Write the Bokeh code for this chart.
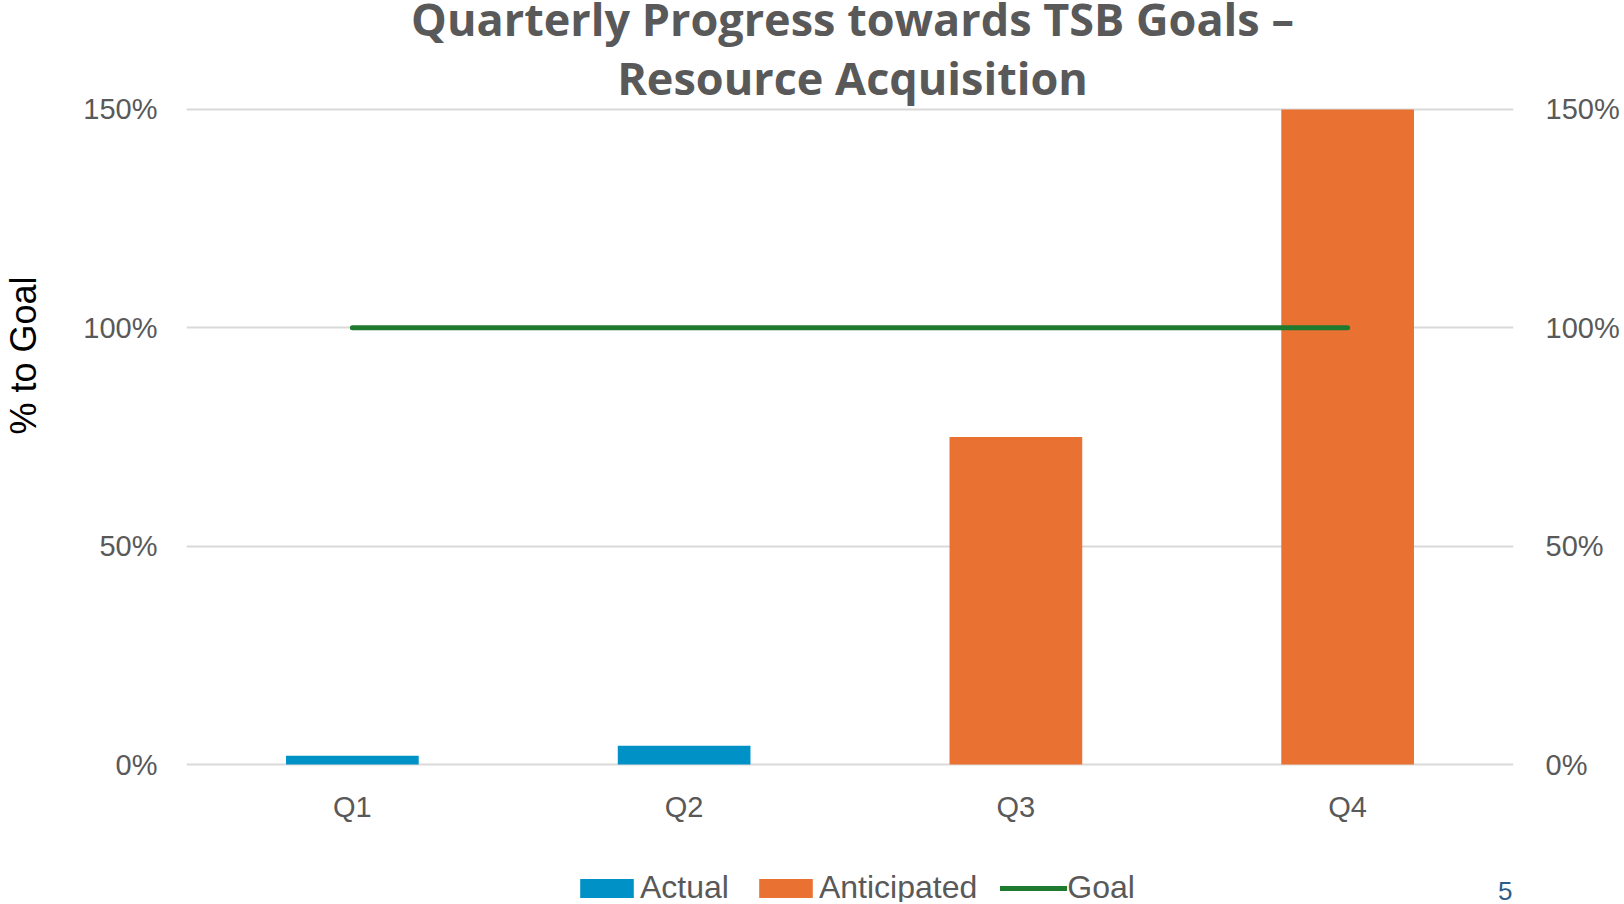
import math
from bokeh.plotting import figure
from bokeh.layouts import row
from bokeh.models import (FactorRange, Range1d, LinearAxis, FixedTicker, NumeralTickFormatter,
                          Legend, LegendItem, Label)
from bokeh.embed import file_html
from bokeh.resources import INLINE

quarters = ["Q1", "Q2", "Q3", "Q4"]
actual = [0.02, 0.043, float("nan"), float("nan")]
anticipated = [float("nan"), float("nan"), 0.75, 1.5]
goal = [1.0, 1.0, 1.0, 1.0]
y_ticks = [0, 0.5, 1.0, 1.5]
title_lines = ["Quarterly Progress towards TSB Goals \u2013", "Resource Acquisition"]
y_label = "% to Goal"
series_names = ["Actual", "Anticipated", "Goal"]
page_number = "5"

GRAY = "#595959"
SANS = "Liberation Sans"
TITLE_FONT = "Open Sans"
C_ACT, C_ANT, C_GOAL = "#0092C7", "#E97132", "#1E7A2E"
H = 902
TOTAL_W = 1622
LEFT_W = 50

# narrow strip holding the vertical axis title
p_left = figure(width=LEFT_W, height=H, x_range=Range1d(0, 1), y_range=Range1d(0, 1),
                output_backend="svg", toolbar_location=None, min_border=0)
p_left.axis.visible = False
p_left.grid.visible = False
p_left.outline_line_color = None
p_left.border_fill_color = "white"
p_left.add_layout(Label(x=23, y=H - 355, x_units="screen", y_units="screen", text=y_label,
                        angle=math.pi / 2, text_align="center", text_baseline="middle",
                        text_font=SANS, text_font_size="36px", text_color="black"))

# main chart: frame spans the full height; 0% sits 764px and 150% 109px from the top
p = figure(width=TOTAL_W - LEFT_W, height=H,
           x_range=FactorRange(*quarters, range_padding=0),
           y_range=Range1d(-0.3160, 1.7496),
           output_backend="svg", toolbar_location=None,
           min_border_left=186 - LEFT_W, min_border_right=108,
           min_border_top=0, min_border_bottom=0)
p.outline_line_color = None
p.background_fill_color = "white"
p.border_fill_color = "white"

r_act = p.vbar(x=quarters, top=actual, width=0.4, fill_color=C_ACT, line_color=None)
r_ant = p.vbar(x=quarters, top=anticipated, width=0.4, fill_color=C_ANT, line_color=None)
r_goal = p.line(x=quarters, y=goal, line_color=C_GOAL, line_width=5, line_cap="round")

fmt = NumeralTickFormatter(format="0%")

xa = p.xaxis[0]
xa.fixed_location = 0
ya = p.yaxis[0]
ya.ticker = FixedTicker(ticks=y_ticks)
ya.formatter = fmt
ra = LinearAxis(ticker=FixedTicker(ticks=y_ticks), formatter=fmt)
p.add_layout(ra, "right")

for ax, st in ((xa, 26), (ya, 29), (ra, 32)):
    ax.axis_line_color = None
    ax.major_tick_line_color = None
    ax.minor_tick_line_color = None
    ax.major_tick_out = 0
    ax.major_tick_in = 0
    ax.major_label_text_font = SANS
    ax.major_label_text_font_size = "29px"
    ax.major_label_text_color = GRAY
    ax.major_label_standoff = st

p.xgrid.grid_line_color = None
p.ygrid.grid_line_color = "#D9D9D9"
p.ygrid.grid_line_width = 2

# title lines (screen units from the frame's bottom-left corner)
for txt, yy in zip(title_lines, (884, 825)):
    p.add_layout(Label(x=666, y=yy, x_units="screen", y_units="screen", text=txt,
                       text_align="center", text_baseline="alphabetic",
                       text_font=TITLE_FONT, text_font_style="bold",
                       text_font_size="45px", text_color=GRAY))

legend = Legend(items=[LegendItem(label=n, renderers=[r]) for n, r in
                       zip(series_names, (r_act, r_ant, r_goal))],
                orientation="horizontal", location=(387, -4),
                glyph_width=67, glyph_height=24, label_standoff=0, spacing=23,
                padding=0, margin=0, border_line_color=None, background_fill_alpha=0,
                label_text_font=SANS, label_text_font_size="32px",
                label_text_color=GRAY)
p.add_layout(legend, "center")

p.add_layout(Label(x=1326, y=12, x_units="screen", y_units="screen", text=page_number,
                   text_align="right", text_baseline="middle",
                   text_font=SANS, text_font_size="26px", text_color="#2E5C8A"))

layout = row(p_left, p, spacing=0)
open("out.html", "w").write(file_html(layout, INLINE))
